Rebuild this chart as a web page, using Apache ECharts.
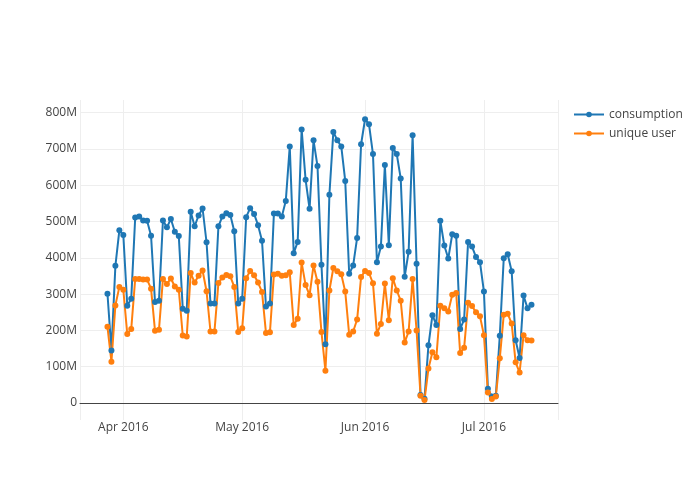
<!DOCTYPE html>
<html>
<head>
<meta charset="utf-8">
<script src="https://cdn.jsdelivr.net/npm/echarts@6/dist/echarts.min.js"></script>
<style>html,body{margin:0;padding:0;background:#fff}#c{width:700px;height:500px}</style>
</head>
<body>
<div id="c"></div>
<script>
// Dates (daily, 2016-03-28 .. 2016-07-13)
const dates = [
 '2016-03-28','2016-03-29','2016-03-30','2016-03-31',
 '2016-04-01','2016-04-02','2016-04-03','2016-04-04','2016-04-05','2016-04-06','2016-04-07','2016-04-08','2016-04-09','2016-04-10',
 '2016-04-11','2016-04-12','2016-04-13','2016-04-14','2016-04-15','2016-04-16','2016-04-17','2016-04-18','2016-04-19','2016-04-20',
 '2016-04-21','2016-04-22','2016-04-23','2016-04-24','2016-04-25','2016-04-26','2016-04-27','2016-04-28','2016-04-29','2016-04-30',
 '2016-05-01','2016-05-02','2016-05-03','2016-05-04','2016-05-05','2016-05-06','2016-05-07','2016-05-08','2016-05-09','2016-05-10',
 '2016-05-11','2016-05-12','2016-05-13','2016-05-14','2016-05-15','2016-05-16','2016-05-17','2016-05-18','2016-05-19','2016-05-20',
 '2016-05-21','2016-05-22','2016-05-23','2016-05-24','2016-05-25','2016-05-26','2016-05-27','2016-05-28','2016-05-29','2016-05-30','2016-05-31',
 '2016-06-01','2016-06-02','2016-06-03','2016-06-04','2016-06-05','2016-06-06','2016-06-07','2016-06-08','2016-06-09','2016-06-10',
 '2016-06-11','2016-06-12','2016-06-13','2016-06-14','2016-06-15','2016-06-16','2016-06-17','2016-06-18','2016-06-19','2016-06-20',
 '2016-06-21','2016-06-22','2016-06-23','2016-06-24','2016-06-25','2016-06-26','2016-06-27','2016-06-28','2016-06-29','2016-06-30',
 '2016-07-01','2016-07-02','2016-07-03','2016-07-04','2016-07-05','2016-07-06','2016-07-07','2016-07-08','2016-07-09','2016-07-10',
 '2016-07-11','2016-07-12','2016-07-13'
];
// values in millions
const consumption = [
 301,145,378,476,
 463,268,287,511,514,503,502,461,278,282,
 503,484,507,472,460,260,254,527,487,517,
 536,443,274,274,487,514,523,518,473,274,
 287,512,537,521,490,447,266,274,522,522,
 514,557,707,413,444,754,615,535,724,653,
 381,162,574,747,724,707,612,356,379,455,713,
 782,768,686,388,431,656,435,703,686,619,
 348,417,738,384,22,12,159,242,215,502,
 434,398,465,461,204,230,444,431,402,388,
 307,39,18,20,185,399,410,363,173,124,
 296,261,271
];
const uniqueUser = [
 210,114,269,320,
 312,190,204,342,342,340,340,315,199,202,
 342,328,343,321,312,186,183,358,332,351,
 365,308,197,197,331,346,353,349,320,196,
 206,344,364,352,332,306,193,195,354,356,
 351,352,360,215,232,387,325,297,379,334,
 196,89,310,372,363,355,307,188,197,230,347,
 364,358,330,191,218,329,228,344,310,282,
 167,197,342,200,20,8,95,140,126,268,
 261,252,298,303,138,152,276,267,250,239,
 187,29,11,18,123,243,246,219,112,84,
 187,173,172
];
const seriesNames = ['consumption', 'unique user'];
const yTicks = [0, 100, 200, 300, 400, 500, 600, 700, 800];

const months = ['Jan','Feb','Mar','Apr','May','Jun','Jul','Aug','Sep','Oct','Nov','Dec'];
const xMin = '2016-03-21 01:40';
const xMax = '2016-07-19 16:34';
const font = '"Open Sans", "DejaVu Sans", sans-serif';

const chart = echarts.init(document.getElementById('c'), null, {renderer: 'canvas'});
const toPairs = arr => dates.map((d, i) => [d, arr[i]]);

chart.setOption({
  animation: false,
  backgroundColor: '#fff',
  textStyle: {fontFamily: font},
  legend: {
    orient: 'vertical',
    left: 568, top: 102,
    itemWidth: 30, itemHeight: 7, itemGap: 4,
    textStyle: {fontFamily: font, fontSize: 12, color: '#444', lineHeight: 15},
    data: seriesNames
  },
  grid: [
    {left: 80, right: 142, top: 100, bottom: 80},
    {left: 80, right: 142, top: 112.7, bottom: 97}
  ],
  xAxis: [
    {
      gridIndex: 0, type: 'time', min: xMin, max: xMax,
      splitNumber: 4,
      minInterval: 28 * 86400000,
      axisLine: {show: false}, axisTick: {show: false},
      splitLine: {show: true, lineStyle: {color: '#eee', width: 1}},
      axisLabel: {
        margin: 2, fontSize: 12, color: '#444', fontFamily: font,
        formatter: v => { const d = new Date(v); return months[d.getMonth()] + ' ' + d.getFullYear(); }
      }
    },
    {
      gridIndex: 1, type: 'time', min: xMin, max: xMax,
      axisLine: {show: true, lineStyle: {color: '#444', width: 1}},
      axisTick: {show: false}, axisLabel: {show: false}, splitLine: {show: false}
    }
  ],
  yAxis: [
    {gridIndex: 0, type: 'value', min: 0, max: 1, show: false, splitLine: {show: false}},
    {
      gridIndex: 1, type: 'value', min: yTicks[0], max: yTicks[yTicks.length - 1], interval: 100,
      axisLine: {show: false}, axisTick: {show: false},
      splitLine: {show: true, lineStyle: {color: '#eee', width: 1}},
      axisLabel: {
        margin: 3, fontSize: 12, color: '#444', fontFamily: font,
        formatter: v => v === 0 ? '0' : v + 'M'
      }
    }
  ],
  series: [
    {
      name: seriesNames[0], type: 'line', xAxisIndex: 1, yAxisIndex: 1,
      data: toPairs(consumption),
      symbol: 'circle', symbolSize: 6, showSymbol: true,
      itemStyle: {color: '#1f77b4'}, lineStyle: {color: '#1f77b4', width: 2},
      clip: false
    },
    {
      name: seriesNames[1], type: 'line', xAxisIndex: 1, yAxisIndex: 1,
      data: toPairs(uniqueUser),
      symbol: 'circle', symbolSize: 6, showSymbol: true,
      itemStyle: {color: '#ff7f0e'}, lineStyle: {color: '#ff7f0e', width: 2},
      clip: false
    }
  ]
});
</script>
</body>
</html>
